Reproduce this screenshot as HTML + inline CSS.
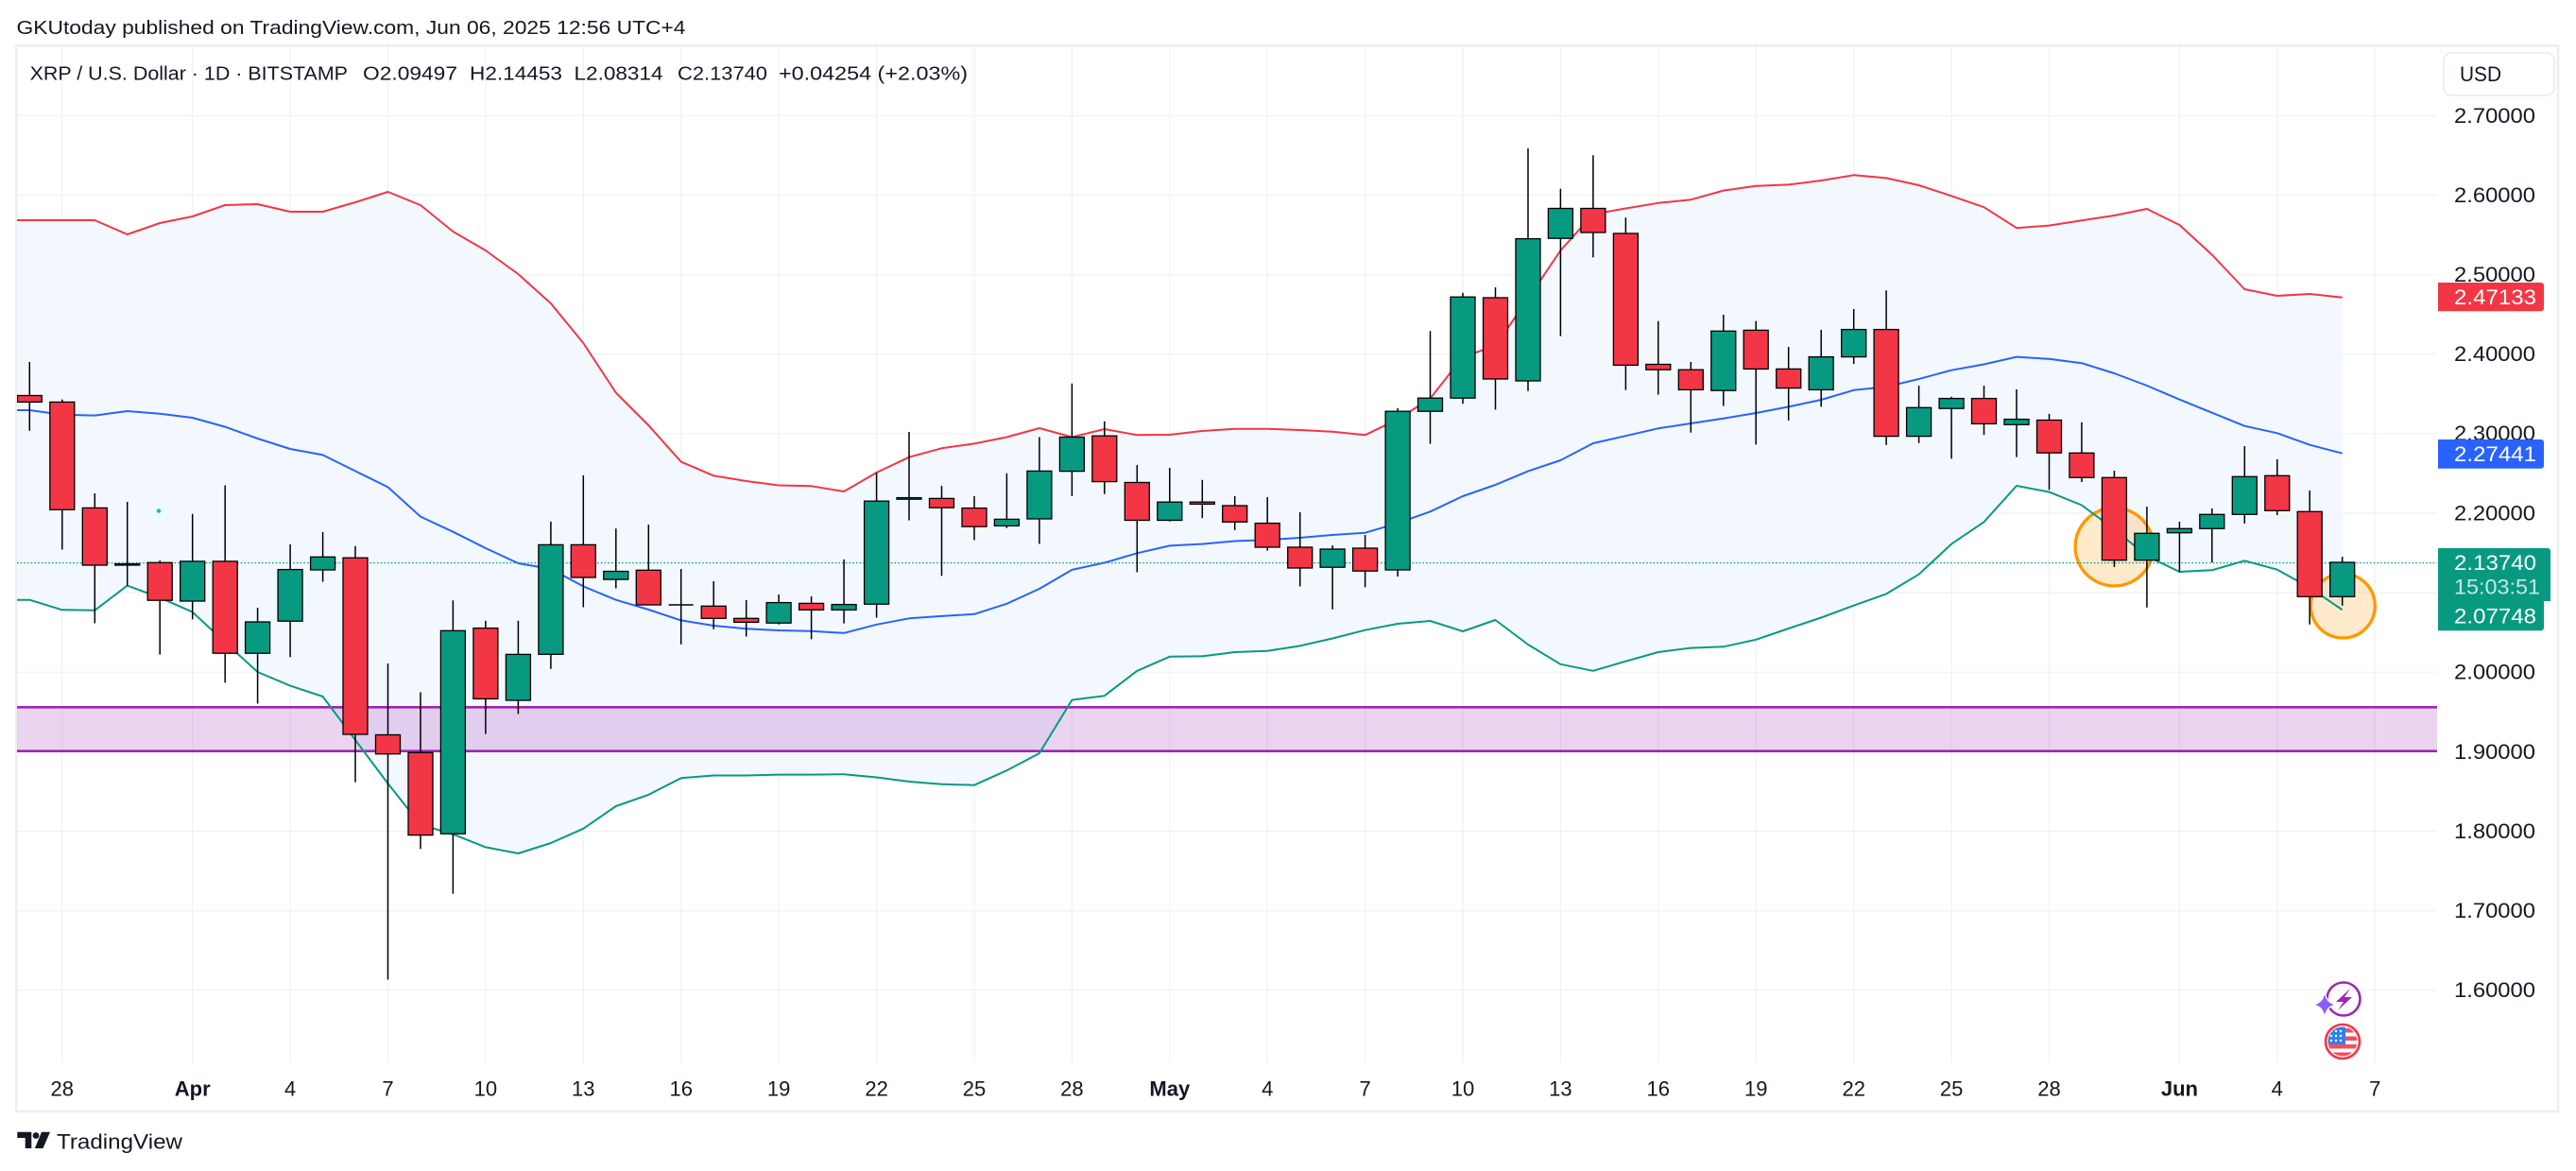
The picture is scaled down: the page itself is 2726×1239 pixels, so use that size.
<!DOCTYPE html>
<html>
<head>
<meta charset="utf-8">
<style>
html,body{margin:0;padding:0;background:#fff;}
body{width:2726px;height:1239px;overflow:hidden;position:relative;}
svg{position:absolute;left:0;top:0;}
text{font-family:"Liberation Sans",Arial,sans-serif;fill:#131722;}
</style>
</head>
<body>
<svg width="2726" height="1239" viewBox="0 0 2726 1239" xmlns="http://www.w3.org/2000/svg">
<defs>
<clipPath id="pane"><rect x="18" y="49" width="2561" height="1076"/></clipPath>
<clipPath id="flagc"><circle cx="2479" cy="1102" r="15.5"/></clipPath>
</defs>
<rect x="0" y="0" width="2726" height="1239" fill="#fff"/>

<!-- header -->
<text x="17.5" y="30" font-size="20" dominant-baseline="central" textLength="708" lengthAdjust="spacingAndGlyphs">GKUtoday published on TradingView.com, Jun 06, 2025 12:56 UTC+4</text>

<!-- frame -->
<rect x="17.3" y="48.3" width="2689.7" height="1127.7" fill="none" stroke="#eeeeee" stroke-width="2.5"/>

<g clip-path="url(#pane)">
<!-- grid -->
<g stroke="#eef1f5" stroke-width="1.2">
<path d="M18 122.3H2579M18 206.4H2579M18 290.6H2579M18 374.7H2579M18 458.8H2579M18 542.9H2579M18 627.1H2579M18 711.2H2579M18 795.3H2579M18 879.5H2579M18 963.6H2579M18 1047.7H2579"/>
<path d="M65.8 49V1125M203.7 49V1125M307.1 49V1125M410.5 49V1125M513.9 49V1125M617.3 49V1125M720.7 49V1125M824.1 49V1125M927.6 49V1125M1031 49V1125M1134.4 49V1125M1237.8 49V1125M1341.2 49V1125M1444.6 49V1125M1548 49V1125M1651.4 49V1125M1754.8 49V1125M1858.2 49V1125M1961.7 49V1125M2065.1 49V1125M2168.5 49V1125M2306.4 49V1125M2409.8 49V1125M2513.2 49V1125"/>
</g>

<!-- BB fill -->
<polygon fill="#f3f8fe" points="-3.1,233 31.3,233 65.8,233 100.3,233 134.7,248 169.2,236 203.7,229 238.2,217 272.6,216 307.1,224 341.6,224 376,214 410.5,203 445,217 479.4,245 513.9,265 548.4,290 582.9,321 617.3,363 651.8,415.5 686.3,450 720.7,488.6 755.2,503.3 789.7,509 824.1,513.5 858.6,514.3 893.1,520 927.6,500 962,483.7 996.5,474.3 1031,469.4 1065.4,462.5 1099.9,453 1134.4,462.5 1168.8,454 1203.3,460.3 1237.8,460 1272.3,456 1306.7,453.7 1341.2,453.7 1375.7,455 1410.1,456.8 1444.6,460.3 1479.1,443.6 1513.5,421.6 1548,377.6 1582.5,366 1617,316 1651.4,265 1685.9,226.7 1720.4,220.5 1754.8,214.8 1789.3,211.3 1823.8,201.6 1858.2,196.8 1892.7,195.4 1927.2,191 1961.7,185.3 1996.1,188.4 2030.6,196 2065.1,207.3 2099.5,219.2 2134,241.2 2168.5,238.6 2202.9,233.3 2237.4,228 2271.9,221 2306.4,238 2340.8,269.5 2375.3,306 2409.8,313 2444.2,311 2478.7,314.7 2478.7,645.3 2444.2,621.7 2409.8,602.7 2375.3,593.3 2340.8,603.3 2306.4,605 2271.9,588.3 2237.4,560 2202.9,534.5 2168.5,520.6 2134,514 2099.5,552.3 2065.1,575.6 2030.6,607.7 1996.1,628.4 1961.7,640.7 1927.2,653.5 1892.7,665 1858.2,676.8 1823.8,684.3 1789.3,685.6 1754.8,690 1720.4,699.7 1685.9,709.8 1651.4,702.8 1617,682 1582.5,656 1548,668 1513.5,657 1479.1,660 1444.6,666.7 1410.1,675.5 1375.7,683.4 1341.2,688.7 1306.7,690 1272.3,694.4 1237.8,694.8 1203.3,709.8 1168.8,736.2 1134.4,740.6 1099.9,797 1065.4,815.2 1031,830.7 996.5,829.8 962,827 927.6,822.5 893.1,819.2 858.6,819.6 824.1,819.6 789.7,820.5 755.2,820.5 720.7,823.3 686.3,840.9 651.8,853 617.3,876.8 582.9,892 548.4,903 513.9,896.4 479.4,882.7 445,872.5 410.5,829 376,783 341.6,737 307.1,725.6 272.6,711 238.2,679.7 203.7,647.6 169.2,632.4 134.7,619.6 100.3,645.8 65.8,645.3 31.3,634.7 -3.1,634.7"/>

<!-- support zone -->
<rect x="18" y="748.3" width="2561" height="46.4" fill="rgba(156,39,176,0.2)"/>
<path d="M18 748.3H2579M18 794.7H2579" stroke="#9c27b0" stroke-width="2.7"/>

<!-- circles -->
<circle cx="2237.4" cy="578.6" r="41.3" fill="rgba(255,152,0,0.2)" stroke="#ff9800" stroke-width="3.3"/>
<circle cx="2479.3" cy="641" r="34" fill="rgba(255,152,0,0.2)" stroke="#ff9800" stroke-width="3.3"/>

<!-- BB lines -->
<polyline fill="none" stroke="#f23645" stroke-width="2" stroke-linejoin="round" points="-3.1,233 31.3,233 65.8,233 100.3,233 134.7,248 169.2,236 203.7,229 238.2,217 272.6,216 307.1,224 341.6,224 376,214 410.5,203 445,217 479.4,245 513.9,265 548.4,290 582.9,321 617.3,363 651.8,415.5 686.3,450 720.7,488.6 755.2,503.3 789.7,509 824.1,513.5 858.6,514.3 893.1,520 927.6,500 962,483.7 996.5,474.3 1031,469.4 1065.4,462.5 1099.9,453 1134.4,462.5 1168.8,454 1203.3,460.3 1237.8,460 1272.3,456 1306.7,453.7 1341.2,453.7 1375.7,455 1410.1,456.8 1444.6,460.3 1479.1,443.6 1513.5,421.6 1548,377.6 1582.5,366 1617,316 1651.4,265 1685.9,226.7 1720.4,220.5 1754.8,214.8 1789.3,211.3 1823.8,201.6 1858.2,196.8 1892.7,195.4 1927.2,191 1961.7,185.3 1996.1,188.4 2030.6,196 2065.1,207.3 2099.5,219.2 2134,241.2 2168.5,238.6 2202.9,233.3 2237.4,228 2271.9,221 2306.4,238 2340.8,269.5 2375.3,306 2409.8,313 2444.2,311 2478.7,314.7"/>
<polyline fill="none" stroke="#2962ff" stroke-width="2" stroke-linejoin="round" points="-3.1,434 31.3,434 65.8,438.7 100.3,439.6 134.7,435 169.2,437.8 203.7,442 238.2,451.6 272.6,464 307.1,475 341.6,481.4 376,498.4 410.5,515.4 445,546.6 479.4,562.7 513.9,580 548.4,596 582.9,602 617.3,620.4 651.8,634.7 686.3,645 720.7,656.4 755.2,662 789.7,665.3 824.1,667 858.6,667.8 893.1,669.8 927.6,660.8 962,654.3 996.5,651.9 1031,649.8 1065.4,638.8 1099.9,623 1134.4,602.9 1168.8,595.4 1203.3,585.3 1237.8,577.4 1272.3,575.6 1306.7,572.5 1341.2,571.2 1375.7,569 1410.1,566 1444.6,563.7 1479.1,553.6 1513.5,541.3 1548,525 1582.5,513 1617,498.6 1651.4,487 1685.9,469 1720.4,461.2 1754.8,453.3 1789.3,448 1823.8,442.7 1858.2,437 1892.7,430.4 1927.2,423 1961.7,412.8 1996.1,409.3 2030.6,401 2065.1,391.7 2099.5,385.5 2134,377.6 2168.5,379.8 2202.9,384.2 2237.4,395 2271.9,408 2306.4,422.7 2340.8,436.7 2375.3,450.7 2409.8,458.3 2444.2,470.7 2478.7,479.7"/>
<polyline fill="none" stroke="#089981" stroke-width="2" stroke-linejoin="round" points="-3.1,634.7 31.3,634.7 65.8,645.3 100.3,645.8 134.7,619.6 169.2,632.4 203.7,647.6 238.2,679.7 272.6,711 307.1,725.6 341.6,737 376,783 410.5,829 445,872.5 479.4,882.7 513.9,896.4 548.4,903 582.9,892 617.3,876.8 651.8,853 686.3,840.9 720.7,823.3 755.2,820.5 789.7,820.5 824.1,819.6 858.6,819.6 893.1,819.2 927.6,822.5 962,827 996.5,829.8 1031,830.7 1065.4,815.2 1099.9,797 1134.4,740.6 1168.8,736.2 1203.3,709.8 1237.8,694.8 1272.3,694.4 1306.7,690 1341.2,688.7 1375.7,683.4 1410.1,675.5 1444.6,666.7 1479.1,660 1513.5,657 1548,668 1582.5,656 1617,682 1651.4,702.8 1685.9,709.8 1720.4,699.7 1754.8,690 1789.3,685.6 1823.8,684.3 1858.2,676.8 1892.7,665 1927.2,653.5 1961.7,640.7 1996.1,628.4 2030.6,607.7 2065.1,575.6 2099.5,552.3 2134,514 2168.5,520.6 2202.9,534.5 2237.4,560 2271.9,588.3 2306.4,605 2340.8,603.3 2375.3,593.3 2409.8,602.7 2444.2,621.7 2478.7,645.3"/>

<!-- current price line -->
<path d="M18 595.6H2579" stroke="#089981" stroke-width="1.4" stroke-dasharray="1.5 2.2"/>

<circle cx="168" cy="540.6" r="2.2" fill="#00bcd4"/>

<!-- wicks -->
<path fill="none" stroke="#000" stroke-width="1.5" d="M31.3 383V455.7M65.8 422.6V581.5M100.3 522V659.5M134.7 531V619.6M169.2 593V692.6M203.7 543.8V655.4M238.2 513.5V722.4M272.6 643V744.5M307.1 576V695.3M341.6 563V615.5M376 577.8V827.6M410.5 702V1036.5M445 732.5V898.3M479.4 635.2V945.6M513.9 656.8V776.6M548.4 656.8V755.5M582.9 551.9V707.8M617.3 502.9V642.5M651.8 559.2V622.5M686.3 555V640M720.7 602V681.7M755.2 615V665.8M789.7 635V673.5M824.1 629V660.8M858.6 631V676.4M893.1 591.9V659.6M927.6 500V653.5M962 457V550.6M996.5 514V609.4M1031 525V571.5M1065.4 500.8V558.8M1099.9 462.5V575.5M1134.4 405.8V525M1168.8 445.8V522.8M1203.3 492V605.5M1237.8 495V551.8M1272.3 507.8V548.3M1306.7 525V561M1341.2 526V582.6M1375.7 542V620.5M1410.1 577V644.7M1444.6 566V621.4M1479.1 431.7V610M1513.5 350.3V469.6M1548 309.8V427.3M1582.5 304V433.5M1617 157V413.7M1651.4 199.8V355.6M1685.9 164.2V272.4M1720.4 230.2V412.8M1754.8 339.8V417.6M1789.3 383V457.7M1823.8 333V429.5M1858.2 339.8V470.4M1892.7 367V445M1927.2 349V430.4M1961.7 327V385M1996.1 307.2V470.9M2030.6 408V468.7M2065.1 419.8V485.4M2099.5 408V460.3M2134 412V483.6M2168.5 437.9V518.4M2202.9 446.7V510M2237.4 498V600M2271.9 536V642.7M2306.4 552V605.3M2340.8 538V595M2375.3 472V554M2409.8 486V545M2444.2 519V660.7M2478.7 589V640.7M707.7 640H733.7"/>

<!-- red bodies -->
<g fill="#f23645" stroke="#000" stroke-width="1.3">
<rect x="18.3" y="418.5" width="26" height="6.9"/>
<rect x="52.8" y="425.4" width="26" height="113.9"/>
<rect x="87.3" y="537.4" width="26" height="60.6"/>
<rect x="156.2" y="595.3" width="26" height="39.9"/>
<rect x="225.2" y="593.9" width="26" height="97.3"/>
<rect x="363" y="590.2" width="26" height="186.8"/>
<rect x="397.5" y="777.5" width="26" height="20.2"/>
<rect x="432" y="796.3" width="26" height="87.3"/>
<rect x="500.9" y="664.6" width="26" height="74.8"/>
<rect x="604.3" y="576.4" width="26" height="34.6"/>
<rect x="673.3" y="603.3" width="26" height="36.7"/>
<rect x="742.2" y="641.3" width="26" height="13"/>
<rect x="776.7" y="654.3" width="26" height="4.1"/>
<rect x="845.6" y="638.4" width="26" height="6.9"/>
<rect x="983.5" y="527.4" width="26" height="9.8"/>
<rect x="1018" y="537.6" width="26" height="19.6"/>
<rect x="1155.8" y="461.2" width="26" height="48.4"/>
<rect x="1190.3" y="510.5" width="26" height="40"/>
<rect x="1259.3" y="531.2" width="26" height="2.2"/>
<rect x="1293.7" y="535" width="26" height="17.3"/>
<rect x="1328.2" y="553.6" width="26" height="25.4"/>
<rect x="1362.7" y="579" width="26" height="22"/>
<rect x="1431.6" y="580" width="26" height="24.2"/>
<rect x="1569.5" y="315" width="26" height="86"/>
<rect x="1672.9" y="220.5" width="26" height="25.5"/>
<rect x="1707.4" y="247" width="26" height="139.4"/>
<rect x="1741.8" y="385.5" width="26" height="5.7"/>
<rect x="1776.3" y="391.2" width="26" height="21.2"/>
<rect x="1845.2" y="349.4" width="26" height="41"/>
<rect x="1879.7" y="390.4" width="26" height="20.2"/>
<rect x="1983.1" y="348.6" width="26" height="113"/>
<rect x="2086.5" y="421.6" width="26" height="26.8"/>
<rect x="2155.5" y="444.5" width="26" height="34.7"/>
<rect x="2189.9" y="479.3" width="26" height="26"/>
<rect x="2224.4" y="505.3" width="26" height="87.4"/>
<rect x="2396.8" y="503.3" width="26" height="37"/>
<rect x="2431.2" y="541.3" width="26" height="90"/>
</g>
<!-- green bodies -->
<g fill="#089981" stroke="#000" stroke-width="1.3">
<rect x="121.7" y="596.6" width="26" height="1.4"/>
<rect x="190.7" y="593.9" width="26" height="42.1"/>
<rect x="259.6" y="658" width="26" height="33.2"/>
<rect x="294.1" y="602.6" width="26" height="54.6"/>
<rect x="328.6" y="589.3" width="26" height="13.7"/>
<rect x="466.4" y="667.3" width="26" height="214.9"/>
<rect x="535.4" y="692.4" width="26" height="48.6"/>
<rect x="569.9" y="576.4" width="26" height="115.9"/>
<rect x="638.8" y="604.5" width="26" height="8.6"/>
<rect x="811.1" y="637.6" width="26" height="21.6"/>
<rect x="880.1" y="639.6" width="26" height="5.7"/>
<rect x="914.6" y="530.2" width="26" height="109"/>
<rect x="949" y="526.6" width="26" height="1.6"/>
<rect x="1052.4" y="549.4" width="26" height="7"/>
<rect x="1086.9" y="498.4" width="26" height="50.6"/>
<rect x="1121.4" y="462.5" width="26" height="36.1"/>
<rect x="1224.8" y="531.2" width="26" height="19.3"/>
<rect x="1397.1" y="581" width="26" height="19.2"/>
<rect x="1466.1" y="435.2" width="26" height="167.8"/>
<rect x="1500.5" y="421.2" width="26" height="14"/>
<rect x="1535" y="314.2" width="26" height="107"/>
<rect x="1604" y="252.6" width="26" height="150.4"/>
<rect x="1638.4" y="220.5" width="26" height="31.7"/>
<rect x="1810.8" y="350.3" width="26" height="62.9"/>
<rect x="1914.2" y="377.6" width="26" height="34.8"/>
<rect x="1948.7" y="348.6" width="26" height="29"/>
<rect x="2017.6" y="431.3" width="26" height="30.3"/>
<rect x="2052.1" y="421.6" width="26" height="10.6"/>
<rect x="2121" y="443.6" width="26" height="5.7"/>
<rect x="2258.9" y="564.3" width="26" height="28.4"/>
<rect x="2293.4" y="559.3" width="26" height="4.4"/>
<rect x="2327.8" y="544.3" width="26" height="15"/>
<rect x="2362.3" y="504.3" width="26" height="40"/>
<rect x="2465.7" y="595" width="26" height="36.3"/>
</g>

<!-- icons -->
<circle cx="2480" cy="1057" r="17.5" fill="none" stroke="#9c27b0" stroke-width="2.6"/>
<polygon fill="#9c27b0" points="2487,1046 2472,1060 2480,1060 2474,1069 2489,1055 2481,1055"/>
<path d="M2460 1052 Q2462 1061 2470 1063 Q2462 1065 2460 1074 Q2458 1065 2450 1063 Q2458 1061 2460 1052Z" fill="#8b5cf6" stroke="#fff" stroke-width="2.5" paint-order="stroke"/>
<circle cx="2479" cy="1102" r="18" fill="#fff" stroke="#f23645" stroke-width="2.6"/>
<g clip-path="url(#flagc)">
<rect x="2460" y="1085" width="40" height="36" fill="#fff"/>
<rect x="2460" y="1088" width="40" height="4.5" fill="#f0505a"/>
<rect x="2460" y="1096.5" width="40" height="4.5" fill="#f0505a"/>
<rect x="2460" y="1105" width="40" height="4.5" fill="#f0505a"/>
<rect x="2460" y="1113.5" width="40" height="4.5" fill="#f0505a"/>
<rect x="2460" y="1085" width="22" height="20" fill="#2f80ed"/>
<g fill="#fff"><circle cx="2467" cy="1091" r="1.2"/><circle cx="2472" cy="1091" r="1.2"/><circle cx="2477" cy="1091" r="1.2"/><circle cx="2467" cy="1096" r="1.2"/><circle cx="2472" cy="1096" r="1.2"/><circle cx="2477" cy="1096" r="1.2"/><circle cx="2467" cy="1101" r="1.2"/><circle cx="2472" cy="1101" r="1.2"/><circle cx="2477" cy="1101" r="1.2"/></g>
</g>
</g>

<!-- legend line -->
<g font-size="20">
<text x="31.6" y="78.3" dominant-baseline="central" textLength="336.4" lengthAdjust="spacingAndGlyphs">XRP / U.S. Dollar · 1D · BITSTAMP</text>
<text x="384" y="78.3" dominant-baseline="central" textLength="100" lengthAdjust="spacingAndGlyphs">O2.09497</text>
<text x="497" y="78.3" dominant-baseline="central" textLength="98" lengthAdjust="spacingAndGlyphs">H2.14453</text>
<text x="607.5" y="78.3" dominant-baseline="central" textLength="94" lengthAdjust="spacingAndGlyphs">L2.08314</text>
<text x="717" y="78.3" dominant-baseline="central" textLength="95" lengthAdjust="spacingAndGlyphs">C2.13740</text>
<text x="824" y="78.3" dominant-baseline="central" textLength="200" lengthAdjust="spacingAndGlyphs">+0.04254 (+2.03%)</text>
</g>

<!-- price axis -->
<rect x="2586" y="56" width="117" height="45" rx="8" fill="#fff" stroke="#e6e8ee" stroke-width="1.5"/>
<text x="2603" y="78.5" font-size="22" dominant-baseline="central" textLength="44" lengthAdjust="spacingAndGlyphs">USD</text>
<g font-size="22">
<text x="2597" y="122.3" dominant-baseline="central" textLength="86" lengthAdjust="spacingAndGlyphs">2.70000</text>
<text x="2597" y="206.4" dominant-baseline="central" textLength="86" lengthAdjust="spacingAndGlyphs">2.60000</text>
<text x="2597" y="290.3" dominant-baseline="central" textLength="86" lengthAdjust="spacingAndGlyphs">2.50000</text>
<text x="2597" y="374.7" dominant-baseline="central" textLength="86" lengthAdjust="spacingAndGlyphs">2.40000</text>
<text x="2597" y="458.6" dominant-baseline="central" textLength="86" lengthAdjust="spacingAndGlyphs">2.30000</text>
<text x="2597" y="542.9" dominant-baseline="central" textLength="86" lengthAdjust="spacingAndGlyphs">2.20000</text>
<text x="2597" y="711.2" dominant-baseline="central" textLength="86" lengthAdjust="spacingAndGlyphs">2.00000</text>
<text x="2597" y="795.3" dominant-baseline="central" textLength="86" lengthAdjust="spacingAndGlyphs">1.90000</text>
<text x="2597" y="879.5" dominant-baseline="central" textLength="86" lengthAdjust="spacingAndGlyphs">1.80000</text>
<text x="2597" y="963.6" dominant-baseline="central" textLength="86" lengthAdjust="spacingAndGlyphs">1.70000</text>
<text x="2597" y="1047.7" dominant-baseline="central" textLength="86" lengthAdjust="spacingAndGlyphs">1.60000</text>
</g>
<path d="M2580 299H2689a3 3 0 0 1 3 3V326.3a3 3 0 0 1 -3 3H2580Z" fill="#f23645"/>
<text x="2597" y="314.3" font-size="22" dominant-baseline="central" textLength="87" lengthAdjust="spacingAndGlyphs" style="fill:#fff">2.47133</text>
<path d="M2580 465H2689a3 3 0 0 1 3 3V492.7a3 3 0 0 1 -3 3H2580Z" fill="#2962ff"/>
<text x="2597" y="480.4" font-size="22" dominant-baseline="central" textLength="87" lengthAdjust="spacingAndGlyphs" style="fill:#fff">2.27441</text>
<path d="M2580 580H2696a3 3 0 0 1 3 3V636H2580Z" fill="#089981"/>
<text x="2597" y="595.5" font-size="22" dominant-baseline="central" textLength="87" lengthAdjust="spacingAndGlyphs" style="fill:#fff">2.13740</text>
<text x="2597" y="621" font-size="22" dominant-baseline="central" textLength="91" lengthAdjust="spacingAndGlyphs" style="fill:#fff;fill-opacity:0.78">15:03:51</text>
<path d="M2580 636H2692V664.3a3 3 0 0 1 -3 3H2580Z" fill="#089981"/>
<text x="2597" y="651.8" font-size="22" dominant-baseline="central" textLength="87" lengthAdjust="spacingAndGlyphs" style="fill:#fff">2.07748</text>

<!-- time axis -->
<g font-size="22" text-anchor="middle">
<text x="65.8" y="1152" dominant-baseline="central">28</text>
<text x="203.7" y="1152" dominant-baseline="central" font-weight="bold">Apr</text>
<text x="307.1" y="1152" dominant-baseline="central">4</text>
<text x="410.5" y="1152" dominant-baseline="central">7</text>
<text x="513.9" y="1152" dominant-baseline="central">10</text>
<text x="617.3" y="1152" dominant-baseline="central">13</text>
<text x="720.7" y="1152" dominant-baseline="central">16</text>
<text x="824.1" y="1152" dominant-baseline="central">19</text>
<text x="927.6" y="1152" dominant-baseline="central">22</text>
<text x="1031" y="1152" dominant-baseline="central">25</text>
<text x="1134.4" y="1152" dominant-baseline="central">28</text>
<text x="1237.8" y="1152" dominant-baseline="central" font-weight="bold">May</text>
<text x="1341.2" y="1152" dominant-baseline="central">4</text>
<text x="1444.6" y="1152" dominant-baseline="central">7</text>
<text x="1548" y="1152" dominant-baseline="central">10</text>
<text x="1651.4" y="1152" dominant-baseline="central">13</text>
<text x="1754.8" y="1152" dominant-baseline="central">16</text>
<text x="1858.2" y="1152" dominant-baseline="central">19</text>
<text x="1961.7" y="1152" dominant-baseline="central">22</text>
<text x="2065.1" y="1152" dominant-baseline="central">25</text>
<text x="2168.5" y="1152" dominant-baseline="central">28</text>
<text x="2306.4" y="1152" dominant-baseline="central" font-weight="bold">Jun</text>
<text x="2409.8" y="1152" dominant-baseline="central">4</text>
<text x="2513.2" y="1152" dominant-baseline="central">7</text>
</g>

<!-- logo -->
<g fill="#131722">
<path d="M18.3 1197.7H33.3V1215H26.7V1204H18.3Z"/>
<circle cx="38" cy="1201.5" r="3.4"/>
<polygon points="44,1197.7 53,1197.7 45.5,1215 36.8,1215"/>
</g>
<text x="60" y="1208" font-size="22" dominant-baseline="central" textLength="133" lengthAdjust="spacingAndGlyphs">TradingView</text>
</svg>
</body>
</html>
